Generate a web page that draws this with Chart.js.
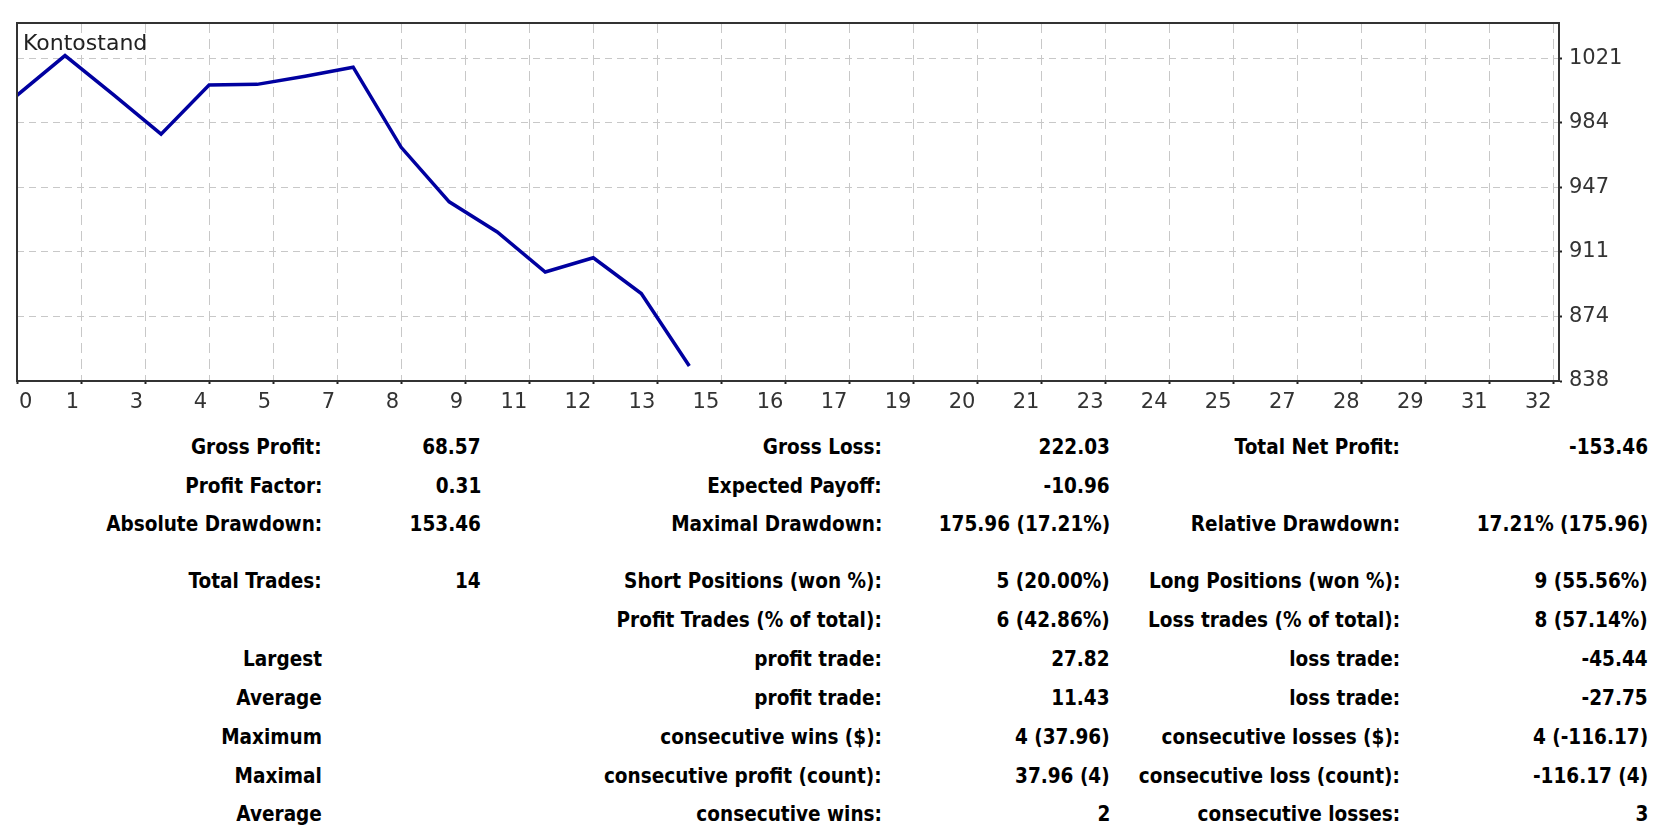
<!DOCTYPE html>
<html>
<head>
<meta charset="utf-8">
<script src="https://cdn.jsdelivr.net/npm/chart.js@4"></script>
<style>
  html, body { margin: 0; padding: 0; background: #fff; }
  body { width: 1655px; height: 832px; position: relative; overflow: hidden; }
  #chartBox { position: absolute; left: 0; top: 0; width: 1655px; height: 415px; }
  .cell {
    position: absolute;
    white-space: nowrap;
    font: bold 22px "DejaVu Sans", sans-serif;
    line-height: 26px;
    color: #000;
    transform: scaleX(0.84);
    transform-origin: right center;
  }
</style>
</head>
<body>
<div id="chartBox"><canvas id="balanceChart"></canvas></div>
<div id="stats"></div>
<script>
// balance after each trade (trade 0 = initial deposit)
const tradeIndex = [0, 1, 2, 3, 4, 5, 6, 7, 8, 9, 10, 11, 12, 13, 14];
const balance = [1000, 1022.50, 1000.50, 978.00, 1005.82, 1006.20, 1010.80, 1015.96,
                 970.52, 939.60, 922.50, 899.79, 907.90, 887.60, 846.54];

const xTickLabels = ["0", "1", "3", "4", "5", "7", "8", "9", "11", "12", "13", "15", "16",
                     "17", "19", "20", "21", "23", "24", "25", "27", "28", "29", "31", "32"];
const xTickStep = 4 / 3;
const yTickValues = [838, 874.6, 911.2, 947.8, 984.4, 1021];
const yTickLabels = ["838", "874", "911", "947", "984", "1021"];

// report table: [label, value, label, value, label, value]
const statRows = [
    ["Gross Profit:", "68.57", "Gross Loss:", "222.03", "Total Net Profit:", "-153.46"],
    ["Profit Factor:", "0.31", "Expected Payoff:", "-10.96", "", ""],
    ["Absolute Drawdown:", "153.46", "Maximal Drawdown:", "175.96 (17.21%)", "Relative Drawdown:", "17.21% (175.96)"],
    ["Total Trades:", "14", "Short Positions (won %):", "5 (20.00%)", "Long Positions (won %):", "9 (55.56%)"],
    ["", "", "Profit Trades (% of total):", "6 (42.86%)", "Loss trades (% of total):", "8 (57.14%)"],
    ["Largest", "", "profit trade:", "27.82", "loss trade:", "-45.44"],
    ["Average", "", "profit trade:", "11.43", "loss trade:", "-27.75"],
    ["Maximum", "", "consecutive wins ($):", "4 (37.96)", "consecutive losses ($):", "4 (-116.17)"],
    ["Maximal", "", "consecutive profit (count):", "37.96 (4)", "consecutive loss (count):", "-116.17 (4)"],
    ["Average", "", "consecutive wins:", "2", "consecutive losses:", "3"],
];
const rowY = [447, 485.5, 524, 581, 620, 659, 698, 737, 776, 814];
const colRight = [322, 481, 882, 1110, 1400, 1648];

const stats = document.getElementById("stats");
statRows.forEach((row, r) => {
    row.forEach((txt, c) => {
        if (!txt) return;
        const d = document.createElement("div");
        d.className = "cell";
        d.textContent = txt;
        d.style.right = (1655 - colRight[c]) + "px";
        d.style.top = (rowY[r] - 13) + "px";
        stats.appendChild(d);
    });
});

const frame = {
    id: "frame",
    afterDraw(chart) {
        const { ctx, chartArea: a } = chart;
        ctx.save();
        ctx.strokeStyle = "#333";
        ctx.lineWidth = 2;
        ctx.strokeRect(a.left, a.top, a.right - a.left, a.bottom - a.top);
        ctx.fillStyle = "#222";
        ctx.font = "22px 'DejaVu Sans'";
        ctx.textBaseline = "alphabetic";
        ctx.fillText("Kontostand", a.left + 6, a.top + 27);
        // first x label sits just inside the left border
        ctx.fillStyle = "#333";
        ctx.font = "21px 'DejaVu Sans'";
        ctx.textBaseline = "top";
        ctx.fillText(xTickLabels[0], a.left + 2, a.bottom + 11);
        ctx.restore();
    },
};

const ctx = document.getElementById("balanceChart").getContext("2d");

new Chart(ctx, {
    type: "line",
    data: {
        datasets: [
            {
                label: "Kontostand",
                data: tradeIndex.map((t, i) => ({ x: t, y: balance[i] })),
                borderColor: "#0000a0",
                borderWidth: 3.5,
                pointRadius: 0,
                tension: 0,
                fill: false,
            },
        ],
    },
    options: {
        responsive: true,
        maintainAspectRatio: false,
        animation: false,
        devicePixelRatio: 1,
        layout: { padding: { left: 17, top: 23, right: 0, bottom: 0 } },
        plugins: { legend: { display: false }, tooltip: { enabled: false } },
        scales: {
            x: {
                type: "linear",
                min: 0,
                max: 32.11,
                afterBuildTicks: (s) => {
                    s.ticks = xTickLabels.map((_, k) => ({ value: k * xTickStep }));
                },
                afterFit: (s) => { s.height = 34; },
                ticks: {
                    autoSkip: false,
                    maxRotation: 0,
                    align: "end",
                    labelOffset: -2,
                    padding: 6,
                    color: "#333",
                    font: { family: "DejaVu Sans", size: 21 },
                    callback: (v, i) => (i === 0 ? "" : xTickLabels[i]),
                },
                grid: { color: "#c8c8c8", lineWidth: 1, tickLength: 3, tickColor: "#222", tickWidth: 2 },
                border: { display: true, color: "#333", width: 2, dash: [10, 6] },
            },
            y: {
                position: "right",
                min: 838,
                max: 1041,
                afterBuildTicks: (s) => {
                    s.ticks = yTickValues.map((v) => ({ value: v }));
                },
                afterFit: (s) => { s.width = 96; },
                ticks: {
                    padding: 7,
                    color: "#333",
                    font: { family: "DejaVu Sans", size: 21 },
                    callback: (v, i) => yTickLabels[i],
                },
                grid: { color: "#c8c8c8", lineWidth: 1, tickLength: 3, tickColor: "#222", tickWidth: 2 },
                border: { display: true, color: "#333", width: 2, dash: [7, 5] },
            },
        },
    },
    plugins: [frame],
});
</script>
</body>
</html>
